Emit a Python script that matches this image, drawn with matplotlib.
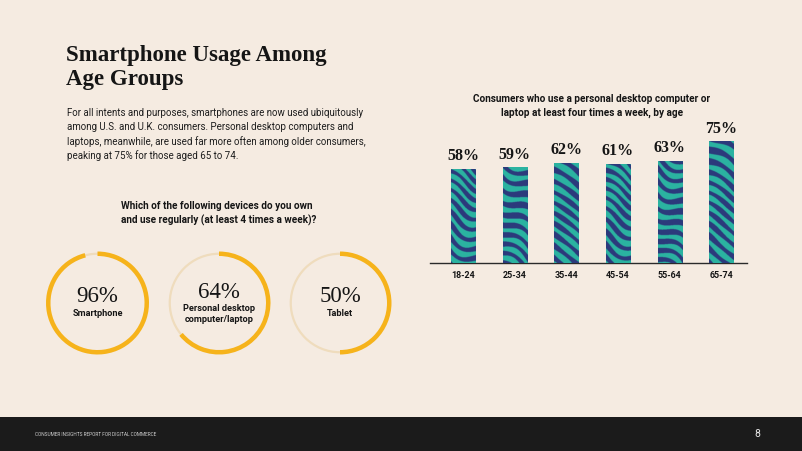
import numpy as np
import matplotlib.pyplot as plt
from matplotlib.colors import ListedColormap
from matplotlib.patches import Circle, Rectangle

# datos
ages = ['18-24', '25-34', '35-44', '45-54', '55-64', '65-74']
pct_laptop = [58, 59, 62, 61, 63, 75]

devices = ['Smartphone', 'Personal desktop\ncomputer/laptop', 'Tablet']
dev_pct = [96, 64, 50]

BG = '#f5ebe1'
YELLOW = '#f6b31b'
TRACK = '#efdcbd'
TEAL = '#2bb3a1'
NAVY = '#2c3a7c'
SERIF = 'Liberation Serif'
SANS = 'Roboto'

W, H = 802, 451
fig = plt.figure(figsize=(W / 100, H / 100), dpi=100, facecolor=BG)


def px(x, y):
    # pixeles (desde arriba) -> fracción de figura
    return x / W, 1 - y / H


# textos de la izquierda
fig.text(*px(66, 56), 'Smartphone Usage Among', fontsize=16.5, fontweight='bold',
         family=SERIF, va='center', color='#151515')
fig.text(*px(66, 79), 'Age Groups', fontsize=16.5, fontweight='bold',
         family=SERIF, va='center', color='#151515')
para = ['For all intents and purposes, smartphones are now used ubiquitously',
        'among U.S. and U.K. consumers. Personal desktop computers and',
        'laptops, meanwhile, are used far more often among older consumers,',
        'peaking at 75% for those aged 65 to 74.']
for i, line in enumerate(para):
    fig.text(*px(67, 113 + i * 14.2), line, fontsize=7.0, family=SANS,
             va='center', color='#1e1e1e')

fig.text(*px(217, 206), 'Which of the following devices do you own',
         fontsize=7.2, fontweight='bold', family=SANS, ha='center', va='center', color='#151515')
fig.text(*px(219, 220), 'and use regularly (at least 4 times a week)?',
         fontsize=7.2, fontweight='bold', family=SANS, ha='center', va='center', color='#151515')

# anillos
centers = [97.5, 219, 340]
cy = 303
size = 116
for cx, lab, v in zip(centers, devices, dev_pct):
    l, b = px(cx - size / 2, cy + size / 2)
    ax = fig.add_axes([l, b, size / W, size / H])
    ax.add_patch(Circle((0, 0), 0.985, fill=False, ec=TRACK, lw=1.6))
    ax.pie([v, 100 - v], startangle=90, counterclock=False, radius=1.03,
           colors=[YELLOW, 'none'], wedgeprops=dict(width=0.09, linewidth=0))
    ax.set_xlim(-1.16, 1.16)
    ax.set_ylim(-1.16, 1.16)
    ax.set_aspect('equal')
    ax.axis('off')
    nlines = lab.count('\n') + 1
    y0 = 0.12 if nlines == 1 else 0.2
    ax.text(0, y0, f'{v}%', fontsize=16.5, family=SERIF, ha='center', va='center', color='#151515')
    ax.text(0, y0 - 0.32 - 0.1 * (nlines - 1), lab, fontsize=6.6, fontweight='bold', family=SANS,
            ha='center', va='center', color='#151515', linespacing=1.2)

# gráfico de barras
l, b = px(430, 263)
axb = fig.add_axes([l, b, 317 / W, 162 / H])
axb.set_facecolor('none')
x = np.arange(len(ages))
bars = axb.bar(x, pct_laptop, width=0.465, color=TEAL, zorder=2)
for s in ['top', 'right', 'left']:
    axb.spines[s].set_visible(False)
axb.spines['bottom'].set_color('#2a2a2a')
axb.spines['bottom'].set_linewidth(1.0)
axb.set_yticks([])
axb.set_xticks(x)
axb.set_xticklabels(ages, fontsize=6.4, fontweight='bold', family=SANS, color='#151515')
axb.tick_params(axis='x', length=0, pad=6)

# textura cebra dentro de cada barra (en pixeles aprox.)
zebra = ListedColormap([TEAL, NAVY])
for i, bar in enumerate(bars):
    hpx = bar.get_height() * 1.62
    gx, gy = np.meshgrid(np.arange(0, 24, 0.25), np.arange(0, hpx, 0.25))
    ph = i * 1.9
    warp = 3.0 * np.sin(gy / 19.0 + ph) + 2.0 * np.sin(gx / 7.0 + gy / 27.0 + 2 * ph)
    slope = 0.6 + 0.35 * np.sin(gy / 33.0 + gx / 15.0 + ph)
    z = np.sin(2 * np.pi * (gy - slope * gx + warp) / 11.0 + ph)
    thr = 0.35 * np.sin(gy / 13.0 + gx / 6.0 + 3 * ph)
    img = (z > thr).astype(float)
    im = axb.imshow(img, extent=[bar.get_x(), bar.get_x() + bar.get_width(), 0, bar.get_height()],
                    origin='upper', cmap=zebra, aspect='auto', interpolation='bilinear', zorder=3)
    im.set_clip_path(bar)
    axb.text(bar.get_x() + bar.get_width() / 2, bar.get_height() + 3, f'{pct_laptop[i]}%',
             ha='center', va='bottom', fontsize=11.5, fontweight='bold', family=SERIF, color='#151515')
axb.set_xlim(-0.64, 5.5)
axb.set_ylim(0, 100)

fig.text(*px(592, 99), 'Consumers who use a personal desktop computer or',
         fontsize=7.2, fontweight='bold', family=SANS, ha='center', va='center', color='#151515')
fig.text(*px(592, 113), 'laptop at least four times a week, by age',
         fontsize=7.2, fontweight='bold', family=SANS, ha='center', va='center', color='#151515')

# pie de página
fig.patches.append(Rectangle((0, 0), 1, 34 / H, transform=fig.transFigure,
                             facecolor='#1b1b1b', edgecolor='none', zorder=0))
fig.text(*px(35, 434), 'CONSUMER INSIGHTS REPORT FOR DIGITAL COMMERCE', fontsize=3.4,
         family=SANS, fontstretch='condensed', color='#cfcfcf', va='center')
fig.text(*px(757, 434), '8', fontsize=7.5, family=SANS, color='#e8e8e8', va='center', ha='center')

fig.savefig('out.png', dpi=100, facecolor=BG)
